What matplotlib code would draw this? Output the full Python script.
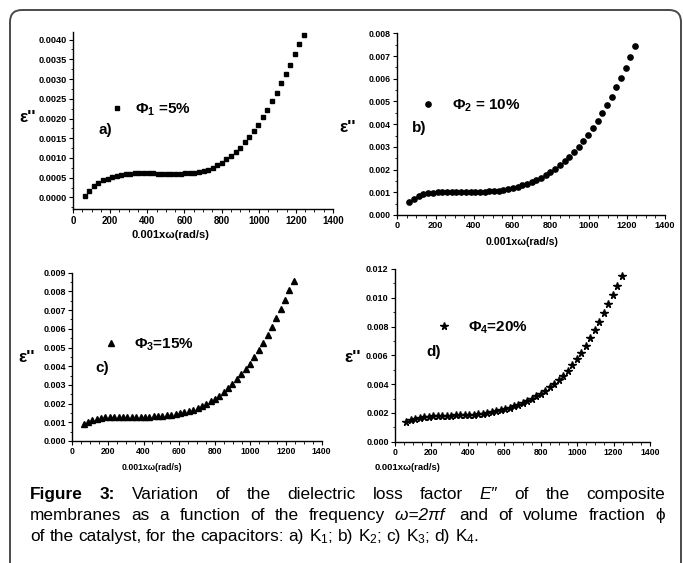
import matplotlib
matplotlib.use("Agg")
import matplotlib.pyplot as plt
from matplotlib.patches import FancyBboxPatch
from matplotlib.ticker import MultipleLocator, AutoMinorLocator, FormatStrFormatter
from matplotlib.transforms import IdentityTransform

plt.rcParams["font.family"] = ["Liberation Sans", "DejaVu Sans"]
plt.rcParams["font.weight"] = "bold"
plt.rcParams["mathtext.fontset"] = "custom"
plt.rcParams["mathtext.rm"] = "Liberation Sans"
plt.rcParams["mathtext.it"] = "Liberation Sans:italic"
plt.rcParams["mathtext.bf"] = "Liberation Sans:bold"

W, H = 683, 563

# 0.001 x omega (rad/s), same sweep for all four capacitors
OMEGA = [63, 88, 112, 137, 161, 186, 211, 235, 260, 284,
         309, 334, 358, 383, 407, 432, 457, 481, 506, 530,
         555, 580, 604, 629, 653, 678, 703, 727, 752, 776,
         801, 826, 850, 875, 899, 924, 949, 973, 998, 1022,
         1047, 1072, 1096, 1121, 1145, 1170, 1195, 1219, 1244]

EPS_K1 = [0.00004, 0.00017, 0.00028, 0.00036, 0.00043, 0.00048, 0.00052, 0.00055, 0.00057, 0.00059,
          0.00060, 0.00061, 0.00061, 0.00061, 0.00061, 0.00061, 0.00060, 0.00060, 0.00060, 0.00060,
          0.00060, 0.00060, 0.00061, 0.00062, 0.00063, 0.00065, 0.00067, 0.00070, 0.00075, 0.00081,
          0.00088, 0.00097, 0.00105, 0.00115, 0.00126, 0.00140, 0.00153, 0.00168, 0.00184, 0.00203,
          0.00222, 0.00244, 0.00265, 0.00289, 0.00312, 0.00336, 0.00364, 0.00388, 0.00412]

EPS_K2 = [0.00057, 0.00072, 0.00084, 0.00092, 0.00097, 0.00099, 0.00100, 0.00100, 0.00100, 0.00100,
          0.00100, 0.00100, 0.00100, 0.00100, 0.00101, 0.00102, 0.00103, 0.00104, 0.00105, 0.00107,
          0.00110, 0.00114, 0.00118, 0.00124, 0.00130, 0.00137, 0.00146, 0.00155, 0.00165, 0.00177,
          0.00189, 0.00204, 0.00219, 0.00237, 0.00256, 0.00278, 0.00300, 0.00326, 0.00352, 0.00383,
          0.00416, 0.00449, 0.00483, 0.00521, 0.00563, 0.00604, 0.00648, 0.00695, 0.00744]

EPS_K3 = [0.00091, 0.00103, 0.00112, 0.00119, 0.00124, 0.00127, 0.00129, 0.00130, 0.00130, 0.00130,
          0.00130, 0.00130, 0.00130, 0.00130, 0.00130, 0.00131, 0.00132, 0.00134, 0.00135, 0.00137,
          0.00141, 0.00144, 0.00148, 0.00153, 0.00160, 0.00168, 0.00176, 0.00186, 0.00198, 0.00212,
          0.00226, 0.00242, 0.00262, 0.00283, 0.00306, 0.00330, 0.00357, 0.00383, 0.00413, 0.00448,
          0.00485, 0.00526, 0.00567, 0.00611, 0.00658, 0.00706, 0.00756, 0.00806, 0.00856]

EPS_K4 = [0.00135, 0.00149, 0.00158, 0.00165, 0.00170, 0.00174, 0.00177, 0.00179, 0.00180, 0.00181,
          0.00182, 0.00183, 0.00184, 0.00185, 0.00186, 0.00188, 0.00190, 0.00195, 0.00200, 0.00207,
          0.00211, 0.00218, 0.00227, 0.00237, 0.00246, 0.00257, 0.00269, 0.00283, 0.00299, 0.00315,
          0.00334, 0.00355, 0.00378, 0.00403, 0.00431, 0.00459, 0.00493, 0.00531, 0.00572, 0.00618,
          0.00667, 0.00721, 0.00774, 0.00832, 0.00892, 0.00955, 0.01019, 0.01084, 0.01151]

LEGEND_LABELS = [r"$\mathbf{\Phi_1}$ =5%", r"$\mathbf{\Phi_2}$ = 10%",
                 r"$\mathbf{\Phi_3}$=15%", r"$\mathbf{\Phi_4}$=20%"]
PANEL_TAGS = ["a)", "b)", "c)", "d)"]
XLABEL = "0.001xω(rad/s)"
YLABEL = "ε''"


def px(x, y):
    """pixel (from top-left) -> figure fraction"""
    return x / W, 1 - y / H


# per panel layout in pixels: axes box (left, top, right, bottom), limits, ticks, text spots
PANELS = [
    dict(y=EPS_K1, marker="s", ms=3.2, box=(73, 31.7, 333, 209.3), ylim=(-0.0003, 0.0042),
         ystep=0.0005, fmt="%.4f", yfs=6.6, xfs=7.0,
         ylab=(28, 118), xlab=(170, 235, 8.0), tag=(105, 130), leg=(117, 110, 0.65)),
    dict(y=EPS_K2, marker="o", ms=3.8, box=(397.3, 33.3, 665, 215), ylim=(0, 0.008),
         ystep=0.001, fmt="%.3f", yfs=6.3, xfs=6.6,
         ylab=(348, 128), xlab=(522, 242, 7.6), tag=(419, 128), leg=(428, 106, 1.05)),
    dict(y=EPS_K3, marker="^", ms=4.0, box=(72.3, 272.7, 321.7, 441), ylim=(0, 0.009),
         ystep=0.001, fmt="%.3f", yfs=6.5, xfs=6.2,
         ylab=(27, 357), xlab=(152, 468, 6.2), tag=(102, 368), leg=(111, 345, 1.0)),
    dict(y=EPS_K4, marker="*", ms=5.5, box=(395, 269, 650, 441.7), ylim=(0, 0.012),
         ystep=0.002, fmt="%.3f", yfs=6.5, xfs=6.2,
         ylab=(353, 357), xlab=(408, 468, 6.8), tag=(434, 352), leg=(444, 328, 1.05)),
]


def draw_panel(fig, p, label, tag):
    l, t, r, b = p["box"]
    ax = fig.add_axes([l / W, 1 - b / H, (r - l) / W, (b - t) / H])
    ax.plot(OMEGA, p["y"], linestyle="none", marker=p["marker"], ms=p["ms"],
            color="black", mec="black", label=label)
    ax.set_xlim(0, 1400)
    ax.set_ylim(*p["ylim"])
    ax.xaxis.set_major_locator(MultipleLocator(200))
    ax.xaxis.set_minor_locator(AutoMinorLocator(4))
    ax.yaxis.set_major_locator(MultipleLocator(p["ystep"]))
    ax.yaxis.set_minor_locator(AutoMinorLocator(2))
    ax.yaxis.set_major_formatter(FormatStrFormatter(p["fmt"]))
    ax.set_yticks([v for v in ax.get_yticks() if v >= -1e-9 and v <= p["ylim"][1] + 1e-9])
    for s in ("top", "right"):
        ax.spines[s].set_visible(False)
    for s in ("left", "bottom"):
        ax.spines[s].set_linewidth(1.0)
    ax.tick_params(which="major", direction="out", length=3, width=0.8, pad=1.5)
    ax.tick_params(which="minor", direction="out", length=1.8, width=0.6)
    ax.tick_params(axis="y", labelsize=p["yfs"])
    ax.tick_params(axis="x", labelsize=p["xfs"])
    ax.patch.set_alpha(0)

    fs = 11
    lx, ly, pad = p["leg"]
    hl = 1.0
    # legend anchored so the marker sits at (lx, ly)
    ax.legend(loc="center left", bbox_to_anchor=px(lx - hl * fs * 100 / 72 / 2, ly),
              bbox_transform=fig.transFigure, frameon=False, numpoints=1,
              handlelength=hl, handletextpad=pad, borderpad=0, borderaxespad=0,
              prop=dict(size=fs, weight="bold"))

    fig.text(*px(*p["ylab"]), YLABEL, fontsize=12.5, fontweight="bold", ha="center", va="center")
    xx, xy, xfs = p["xlab"]
    fig.text(*px(xx, xy), XLABEL, fontsize=xfs, fontweight="bold", ha="center", va="center")
    fig.text(*px(*p["tag"]), tag, fontsize=11, fontweight="bold", ha="center", va="center")
    return ax


def justified_line(fig, renderer, tokens, x0, x1, y, fs, justify=True):
    texts = []
    for s, w, st in tokens:
        texts.append(fig.text(0, 1 - y / H, s, fontsize=fs, fontweight=w, fontstyle=st,
                              ha="left", va="baseline"))
    widths = [t.get_window_extent(renderer).width for t in texts]
    if justify and len(texts) > 1:
        gap = (x1 - x0 - sum(widths)) / (len(texts) - 1)
    else:
        gap = fs * 100 / 72 * 0.278
    x = x0
    for t, wd in zip(texts, widths):
        t.set_x(x / W)
        x += wd + gap


def caption(fig):
    renderer = fig.canvas.get_renderer()
    fs = 12.4
    n = ("normal", "normal")
    line1 = [("Figure", "bold", "normal"), ("3:", "bold", "normal")] + \
        [(w,) + n for w in "Variation of the dielectric loss factor".split()] + \
        [("E″", "normal", "italic")] + [(w,) + n for w in "of the composite".split()]
    line2 = [(w,) + n for w in "membranes as a function of the frequency".split()] + \
        [("ω=2πf ", "normal", "italic")] + \
        [(w,) + n for w in "and of volume fraction ϕ".split()]
    line3 = [(w,) + n for w in ("of the catalyst, for the capacitors: a) K$_\\mathregular{1}$; "
                                "b) K$_\\mathregular{2}$; c) K$_\\mathregular{3}$; "
                                "d) K$_\\mathregular{4}$.").split()]
    justified_line(fig, renderer, line1, 30, 665, 499, fs)
    justified_line(fig, renderer, line2, 30, 665, 520, fs)
    justified_line(fig, renderer, line3, 30, 665, 541, fs, justify=False)


def main():
    fig = plt.figure(figsize=(W / 100, H / 100), dpi=100)
    fig.patch.set_facecolor("white")

    border = FancyBboxPatch((10, -30), 671, H - 10 + 30,
                            boxstyle="round,pad=0,rounding_size=12",
                            transform=IdentityTransform(), facecolor="none",
                            edgecolor="#4a4a4a", linewidth=1.4)
    fig.add_artist(border)

    for p, lab, tag in zip(PANELS, LEGEND_LABELS, PANEL_TAGS):
        draw_panel(fig, p, lab, tag)

    caption(fig)
    fig.savefig("out.png", dpi=100)


if __name__ == "__main__":
    main()
